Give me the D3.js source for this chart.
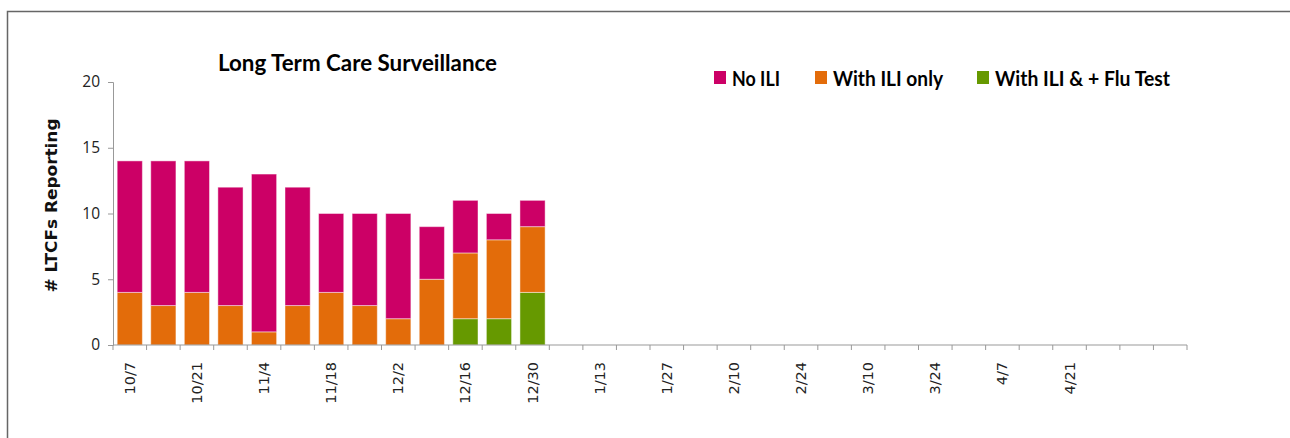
<!DOCTYPE html>
<html>
<head>
<meta charset="utf-8">
<script src="https://cdn.jsdelivr.net/npm/d3@7"></script>
<style>
  html, body { margin: 0; padding: 0; background: #fff; }
  svg { display: block; }
</style>
</head>
<body>
<div id="chart"></div>
<script>
// weekly categories, season 10/7 .. 5/12
const weeks = ["10/7","10/14","10/21","10/28","11/4","11/11","11/18","11/25",
  "12/2","12/9","12/16","12/23","12/30","1/6","1/13","1/20","1/27","2/3",
  "2/10","2/17","2/24","3/3","3/10","3/17","3/24","3/31","4/7","4/14",
  "4/21","4/28","5/5","5/12"];
// labels Excel actually printed
const shownLabels = ["10/7","10/21","11/4","11/18","12/2","12/16","12/30",
  "1/13","1/27","2/10","2/24","3/10","3/24","4/7","4/21"];

const seriesNames = ["With ILI & + Flu Test", "With ILI only", "No ILI"];
const fluPos  = [0,0,0,0,0,0,0,0,0,0,2,2,4];
const iliOnly = [4,3,4,3,1,3,4,3,2,5,5,6,5];
const noIli   = [10,11,10,9,12,9,6,7,8,4,4,2,2];
const yTicks  = [0,5,10,15,20];

const colors = {
  "No ILI": "#CC0066",
  "With ILI only": "#E36C0A",
  "With ILI & + Flu Test": "#669900"
};

const W = 1290, H = 438;
const margin = { left: 113, right: 103, top: 82, bottom: 93 };

const svg = d3.select("#chart").append("svg")
  .attr("width", W).attr("height", H);

// frame (only top + left visible in the capture)
svg.append("path")
  .attr("d", `M7.5,${H} L7.5,11.5 L${W},11.5`)
  .attr("fill", "none").attr("stroke", "#666").attr("stroke-width", 1.5);

const x = d3.scaleBand()
  .domain(weeks)
  .range([margin.left, W - margin.right])
  .paddingInner(0.25).paddingOuter(0.125);

const y = d3.scaleLinear()
  .domain([0, 20])
  .range([H - margin.bottom, margin.top]);

// stacked data
const rows = noIli.map((v, i) => ({
  week: weeks[i],
  "With ILI & + Flu Test": fluPos[i],
  "With ILI only": iliOnly[i],
  "No ILI": v
}));
const stack = d3.stack().keys(seriesNames)(rows);

svg.append("g").selectAll("g")
  .data(stack).join("g")
  .attr("fill", d => colors[d.key])
  .selectAll("rect")
  .data(d => d.filter(s => s[1] > s[0]))
  .join("rect")
  .attr("x", d => x(d.data.week))
  .attr("y", d => y(d[1]))
  .attr("width", x.bandwidth())
  .attr("height", d => y(d[0]) - y(d[1]))
  .attr("stroke", "#fff").attr("stroke-opacity", 0.45).attr("stroke-width", 1);

// y axis
const yAxis = svg.append("g")
  .attr("transform", `translate(${margin.left},0)`)
  .call(d3.axisLeft(y).tickValues(yTicks).tickSize(5).tickPadding(8));
yAxis.selectAll("line, path").attr("stroke", "#999");
yAxis.selectAll("text")
  .attr("font-family", "'Open Sans', sans-serif")
  .attr("font-size", 15.5).attr("fill", "#222");

// x axis: ticks on band boundaries
const xAxisG = svg.append("g").attr("transform", `translate(0,${y(0)})`);
xAxisG.append("line")
  .attr("x1", margin.left).attr("x2", W - margin.right)
  .attr("stroke", "#999");
const step = x.step();
const bounds = d3.range(weeks.length + 1).map(i => margin.left + i * step);
xAxisG.selectAll(".tk").data(bounds).join("line")
  .attr("class", "tk")
  .attr("x1", d => d).attr("x2", d => d)
  .attr("y1", 0).attr("y2", 5)
  .attr("stroke", "#999");
xAxisG.selectAll(".lbl").data(shownLabels).join("text")
  .attr("class", "lbl")
  .attr("transform", d => `translate(${x(d) + x.bandwidth() / 2 + 5},17) rotate(-90)`)
  .attr("text-anchor", "end")
  .attr("font-family", "'DejaVu Sans', sans-serif")
  .attr("font-size", 14.5).attr("fill", "#222")
  .text(d => d);

// y axis title
svg.append("text")
  .attr("transform", `translate(57,${(y(0) + y(20)) / 2 - 8}) rotate(-90)`)
  .attr("text-anchor", "middle")
  .attr("font-family", "'DejaVu Sans', sans-serif")
  .attr("font-weight", "bold").attr("font-size", 15).attr("fill", "#111")
  .attr("textLength", 174).attr("lengthAdjust", "spacingAndGlyphs")
  .text("# LTCFs Reporting");

// title
svg.append("text")
  .attr("x", 218).attr("y", 71)
  .attr("font-family", "Lato, sans-serif")
  .attr("font-weight", "bold").attr("font-size", 23).attr("fill", "#000")
  .attr("textLength", 279).attr("lengthAdjust", "spacingAndGlyphs")
  .text("Long Term Care Surveillance");

// legend
const legendItems = [
  { name: "No ILI", x: 714, w: 48 },
  { name: "With ILI only", x: 815, w: 110 },
  { name: "With ILI & + Flu Test", x: 977, w: 175 }
];
const lg = svg.append("g").selectAll("g").data(legendItems).join("g")
  .attr("transform", d => `translate(${d.x},71)`);
lg.append("rect")
  .attr("width", 12).attr("height", 13)
  .attr("fill", d => colors[d.name]);
lg.append("text")
  .attr("x", 18).attr("y", 15)
  .attr("font-family", "Lato, sans-serif")
  .attr("font-weight", "bold").attr("font-size", 20).attr("fill", "#000")
  .attr("textLength", d => d.w).attr("lengthAdjust", "spacingAndGlyphs")
  .text(d => d.name);
</script>
</body>
</html>
